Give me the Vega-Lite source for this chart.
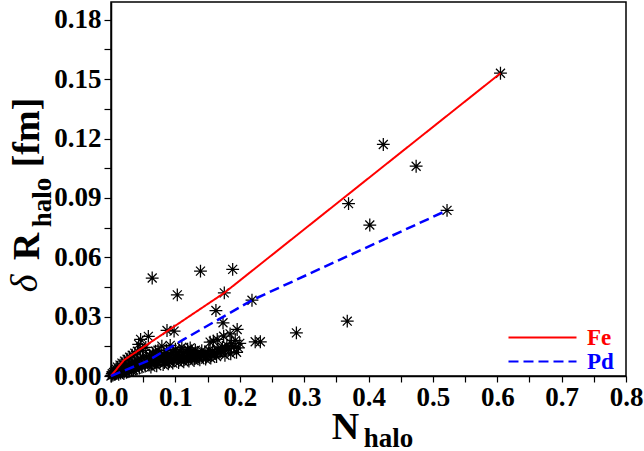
{
  "$schema": "https://vega.github.io/schema/vega-lite/v6.json",
  "width": 515,
  "height": 374,
  "autosize": {"type": "none"},
  "padding": {"left": 111, "top": 2, "right": 18, "bottom": 75},
  "background": "white",
  "config": {
    "view": {"stroke": "black", "strokeWidth": 1.5},
    "font": "Liberation Serif",
    "axis": {"grid": false, "domainColor": "black", "domainWidth": 1.5, "tickColor": "black", "tickWidth": 1.2, "labelFont": "Liberation Serif", "labelFontWeight": "bold", "labelFontSize": 27, "labelColor": "black", "titleFont": "Liberation Serif", "titleFontWeight": "bold", "titleColor": "black"}
  },
  "datasets": {
    "pts": [
      {"n": 0.000, "r": 0.000}, {"n": 0.001, "r": 0.0003}, {"n": 0.002, "r": 0.0012}, {"n": 0.003, "r": 0.0005},
      {"n": 0.004, "r": 0.0018}, {"n": 0.005, "r": 0.0008}, {"n": 0.006, "r": 0.0025}, {"n": 0.007, "r": 0.0012},
      {"n": 0.008, "r": 0.0035}, {"n": 0.009, "r": 0.0015}, {"n": 0.010, "r": 0.0045}, {"n": 0.011, "r": 0.002},
      {"n": 0.012, "r": 0.0008}, {"n": 0.013, "r": 0.003}, {"n": 0.014, "r": 0.0055}, {"n": 0.015, "r": 0.0015},
      {"n": 0.016, "r": 0.0035}, {"n": 0.017, "r": 0.0065}, {"n": 0.018, "r": 0.002}, {"n": 0.019, "r": 0.004},
      {"n": 0.020, "r": 0.0012}, {"n": 0.021, "r": 0.0075}, {"n": 0.022, "r": 0.003}, {"n": 0.023, "r": 0.0048},
      {"n": 0.024, "r": 0.0018}, {"n": 0.025, "r": 0.0085}, {"n": 0.026, "r": 0.0035}, {"n": 0.027, "r": 0.0055},
      {"n": 0.028, "r": 0.0022}, {"n": 0.029, "r": 0.0095}, {"n": 0.030, "r": 0.004}, {"n": 0.031, "r": 0.0065},
      {"n": 0.032, "r": 0.0028}, {"n": 0.033, "r": 0.0105}, {"n": 0.034, "r": 0.0045}, {"n": 0.035, "r": 0.003},
      {"n": 0.036, "r": 0.007}, {"n": 0.037, "r": 0.0115}, {"n": 0.038, "r": 0.005}, {"n": 0.039, "r": 0.0035},
      {"n": 0.040, "r": 0.0078}, {"n": 0.041, "r": 0.0125}, {"n": 0.042, "r": 0.0055}, {"n": 0.043, "r": 0.016},
      {"n": 0.044, "r": 0.004}, {"n": 0.045, "r": 0.0085}, {"n": 0.046, "r": 0.0185}, {"n": 0.047, "r": 0.006},
      {"n": 0.048, "r": 0.0045}, {"n": 0.049, "r": 0.013}, {"n": 0.050, "r": 0.0092}, {"n": 0.052, "r": 0.0065},
      {"n": 0.053, "r": 0.005}, {"n": 0.054, "r": 0.0145}, {"n": 0.055, "r": 0.0098}, {"n": 0.056, "r": 0.007},
      {"n": 0.058, "r": 0.020}, {"n": 0.059, "r": 0.0055}, {"n": 0.060, "r": 0.0105}, {"n": 0.061, "r": 0.0075},
      {"n": 0.063, "r": 0.006}, {"n": 0.064, "r": 0.0495}, {"n": 0.065, "r": 0.0115}, {"n": 0.066, "r": 0.008},
      {"n": 0.068, "r": 0.0065}, {"n": 0.069, "r": 0.0125}, {"n": 0.070, "r": 0.0088}, {"n": 0.072, "r": 0.007},
      {"n": 0.073, "r": 0.013}, {"n": 0.075, "r": 0.0095}, {"n": 0.076, "r": 0.0075}, {"n": 0.078, "r": 0.0105},
      {"n": 0.079, "r": 0.0151}, {"n": 0.080, "r": 0.008}, {"n": 0.082, "r": 0.0112}, {"n": 0.083, "r": 0.0068},
      {"n": 0.085, "r": 0.0098}, {"n": 0.086, "r": 0.013}, {"n": 0.087, "r": 0.023}, {"n": 0.088, "r": 0.0085},
      {"n": 0.090, "r": 0.0105}, {"n": 0.091, "r": 0.0072}, {"n": 0.092, "r": 0.0155}, {"n": 0.094, "r": 0.009},
      {"n": 0.095, "r": 0.012}, {"n": 0.097, "r": 0.008}, {"n": 0.098, "r": 0.0227}, {"n": 0.099, "r": 0.0105},
      {"n": 0.100, "r": 0.0135}, {"n": 0.102, "r": 0.0088}, {"n": 0.103, "r": 0.041}, {"n": 0.104, "r": 0.011},
      {"n": 0.106, "r": 0.0095}, {"n": 0.107, "r": 0.0125}, {"n": 0.109, "r": 0.0082}, {"n": 0.110, "r": 0.0145},
      {"n": 0.112, "r": 0.0105}, {"n": 0.114, "r": 0.009}, {"n": 0.115, "r": 0.012}, {"n": 0.117, "r": 0.0098},
      {"n": 0.119, "r": 0.0135}, {"n": 0.120, "r": 0.0085}, {"n": 0.122, "r": 0.011}, {"n": 0.123, "r": 0.0142},
      {"n": 0.125, "r": 0.0095}, {"n": 0.126, "r": 0.0125}, {"n": 0.128, "r": 0.0108}, {"n": 0.130, "r": 0.0088},
      {"n": 0.131, "r": 0.013}, {"n": 0.133, "r": 0.0102}, {"n": 0.135, "r": 0.0118}, {"n": 0.137, "r": 0.0092},
      {"n": 0.139, "r": 0.053}, {"n": 0.140, "r": 0.011}, {"n": 0.141, "r": 0.0128}, {"n": 0.143, "r": 0.0098},
      {"n": 0.144, "r": 0.0105}, {"n": 0.146, "r": 0.0122}, {"n": 0.148, "r": 0.0095}, {"n": 0.150, "r": 0.0112},
      {"n": 0.152, "r": 0.013}, {"n": 0.154, "r": 0.0171}, {"n": 0.156, "r": 0.0105}, {"n": 0.158, "r": 0.0125},
      {"n": 0.159, "r": 0.0176}, {"n": 0.161, "r": 0.0115}, {"n": 0.163, "r": 0.0331}, {"n": 0.165, "r": 0.0185},
      {"n": 0.166, "r": 0.0135}, {"n": 0.168, "r": 0.0118}, {"n": 0.170, "r": 0.0125}, {"n": 0.172, "r": 0.0134},
      {"n": 0.173, "r": 0.0145}, {"n": 0.174, "r": 0.0269}, {"n": 0.175, "r": 0.0201}, {"n": 0.176, "r": 0.042},
      {"n": 0.178, "r": 0.0128}, {"n": 0.180, "r": 0.0155}, {"n": 0.183, "r": 0.0138}, {"n": 0.185, "r": 0.0213},
      {"n": 0.187, "r": 0.0165}, {"n": 0.189, "r": 0.0539}, {"n": 0.191, "r": 0.0148}, {"n": 0.193, "r": 0.018},
      {"n": 0.196, "r": 0.0235}, {"n": 0.198, "r": 0.0142}, {"n": 0.200, "r": 0.0165}, {"n": 0.219, "r": 0.0383},
      {"n": 0.224, "r": 0.0173}, {"n": 0.232, "r": 0.0173}, {"n": 0.288, "r": 0.0218}, {"n": 0.367, "r": 0.0277},
      {"n": 0.369, "r": 0.0871}, {"n": 0.402, "r": 0.0763}, {"n": 0.423, "r": 0.117}, {"n": 0.474, "r": 0.106},
      {"n": 0.522, "r": 0.0837}, {"n": 0.605, "r": 0.153},
      {"n": 0.062, "r": 0.0045}, {"n": 0.071, "r": 0.0052}, {"n": 0.081, "r": 0.0058}, {"n": 0.089, "r": 0.0062},
      {"n": 0.096, "r": 0.0065}, {"n": 0.105, "r": 0.0068}, {"n": 0.113, "r": 0.0072}, {"n": 0.121, "r": 0.0075},
      {"n": 0.129, "r": 0.0078}, {"n": 0.138, "r": 0.0082}, {"n": 0.147, "r": 0.0085}, {"n": 0.155, "r": 0.009},
      {"n": 0.164, "r": 0.0098}, {"n": 0.177, "r": 0.0105}, {"n": 0.186, "r": 0.0112}, {"n": 0.195, "r": 0.012}
    ],
    "fits": [
      {"series": "Fe", "n": 0.0, "r": 0.0},
      {"series": "Fe", "n": 0.02, "r": 0.008},
      {"series": "Fe", "n": 0.176, "r": 0.042},
      {"series": "Fe", "n": 0.605, "r": 0.153},
      {"series": "Pd", "n": 0.0, "r": 0.0},
      {"series": "Pd", "n": 0.056, "r": 0.0075},
      {"series": "Pd", "n": 0.113, "r": 0.0185},
      {"series": "Pd", "n": 0.219, "r": 0.0383},
      {"series": "Pd", "n": 0.522, "r": 0.0837}
    ]
  },
  "resolve": {"axis": {"x": "independent", "y": "independent"}},
  "layer": [
    {
      "data": {"name": "pts"},
      "transform": [{"filter": "datum.n <= 0.2"}],
      "mark": {"type": "point", "shape": "M0,-1L0,1M-1,0L1,0M-0.7,-0.7L0.7,0.7M-0.7,0.7L0.7,-0.7", "filled": false, "stroke": "black", "strokeWidth": 1.25, "size": 165, "opacity": 1},
      "encoding": {
        "x": {"field": "n", "type": "quantitative", "scale": {"domain": [0, 0.8], "nice": false, "zero": false},
          "axis": {"orient": "bottom", "values": [0, 0.05, 0.1, 0.15, 0.2, 0.25, 0.3, 0.35, 0.4, 0.45, 0.5, 0.55, 0.6, 0.65, 0.7, 0.75, 0.8],
            "labelExpr": "round(datum.value*20) % 2 == 0 ? format(datum.value, '.1f') : ''",
            "tickSize": 6, "labelPadding": 2, "labelFlush": false, "labelOverlap": false,
            "title": "N", "titleFontSize": 38, "titleX": 234, "titleY": 62, "titleAlign": "center", "titleBaseline": "alphabetic"}},
        "y": {"field": "r", "type": "quantitative", "scale": {"domain": [0, 0.189], "nice": false, "zero": false},
          "axis": {"orient": "left", "values": [0, 0.015, 0.03, 0.045, 0.06, 0.075, 0.09, 0.105, 0.12, 0.135, 0.15, 0.165, 0.18],
            "labelExpr": "round(datum.value/0.015) % 2 == 0 ? format(datum.value, '.2f') : ''",
            "tickSize": 7, "labelPadding": 3, "labelFlush": false, "labelOverlap": false,
            "title": "R", "titleFontSize": 38, "titleX": -73, "titleY": 244, "titleAngle": 270, "titleAlign": "center", "titleBaseline": "alphabetic"}}
      }
    },
    {
      "data": {"name": "pts"},
      "transform": [{"filter": "datum.n > 0.2"}],
      "mark": {"type": "point", "shape": "M0,-1L0,1M-1,0L1,0M-0.7,-0.7L0.7,0.7M-0.7,0.7L0.7,-0.7", "filled": false, "stroke": "black", "strokeWidth": 1.25, "size": 165, "opacity": 1},
      "encoding": {
        "x": {"field": "n", "type": "quantitative", "axis": null},
        "y": {"field": "r", "type": "quantitative",
          "axis": {"orient": "left", "labels": false, "ticks": false, "domain": false, "title": "δ", "titleFontSize": 38, "titleFontWeight": "normal", "titleFontStyle": "italic", "titleX": -75, "titleY": 281, "titleAngle": 270, "titleAlign": "center", "titleBaseline": "alphabetic"}}
      }
    },
    {
      "data": {"name": "fits"},
      "transform": [{"filter": "datum.series === 'Fe'"}],
      "mark": {"type": "line", "strokeWidth": 2},
      "encoding": {
        "x": {"field": "n", "type": "quantitative",
          "axis": {"orient": "bottom", "labels": false, "ticks": false, "domain": false, "title": "halo", "titleFontSize": 27, "titleX": 277, "titleY": 70, "titleAlign": "center", "titleBaseline": "alphabetic"}},
        "y": {"field": "r", "type": "quantitative",
          "axis": {"orient": "left", "labels": false, "ticks": false, "domain": false, "title": "halo", "titleFontSize": 27, "titleX": -61, "titleY": 200, "titleAngle": 270, "titleAlign": "center", "titleBaseline": "alphabetic"}},
        "order": {"field": "n", "type": "quantitative"},
        "color": {"field": "series", "type": "nominal", "scale": {"domain": ["Fe", "Pd"], "range": ["#ff0000", "#0000ff"]},
          "legend": {"title": null, "orient": "none", "legendX": 420, "legendY": 324, "symbolType": "M-5,0L5,0", "symbolSize": 185, "symbolStrokeWidth": 2, "labelFont": "Liberation Serif", "labelFontWeight": "bold", "labelFontSize": 23, "labelOffset": 33, "rowPadding": -4, "padding": 0,
            "encode": {"labels": {"update": {"fill": {"signal": "datum.value === 'Fe' ? '#ff0000' : '#0000ff'"}}}}}},
        "strokeDash": {"field": "series", "type": "nominal", "scale": {"domain": ["Fe", "Pd"], "range": [[1, 0], [10, 5]]}, "legend": null}
      }
    },
    {
      "data": {"name": "fits"},
      "transform": [{"filter": "datum.series === 'Pd'"}],
      "mark": {"type": "line", "strokeWidth": 2.5},
      "encoding": {
        "x": {"field": "n", "type": "quantitative", "axis": null},
        "y": {"field": "r", "type": "quantitative",
          "axis": {"orient": "left", "labels": false, "ticks": false, "domain": false, "title": "[fm]", "titleFontSize": 38, "titleX": -73, "titleY": 130, "titleAngle": 270, "titleAlign": "center", "titleBaseline": "alphabetic"}},
        "order": {"field": "n", "type": "quantitative"},
        "color": {"field": "series", "type": "nominal", "scale": {"domain": ["Fe", "Pd"], "range": ["#ff0000", "#0000ff"]},
          "legend": {"title": null, "orient": "none", "legendX": 420, "legendY": 324, "symbolType": "M-5,0L5,0", "symbolSize": 185, "symbolStrokeWidth": 2, "labelFont": "Liberation Serif", "labelFontWeight": "bold", "labelFontSize": 23, "labelOffset": 33, "rowPadding": -4, "padding": 0,
            "encode": {"labels": {"update": {"fill": {"signal": "datum.value === 'Fe' ? '#ff0000' : '#0000ff'"}}}}}},
        "strokeDash": {"field": "series", "type": "nominal", "scale": {"domain": ["Fe", "Pd"], "range": [[1, 0], [10, 5]]}, "legend": null}
      }
    }
  ]
}
